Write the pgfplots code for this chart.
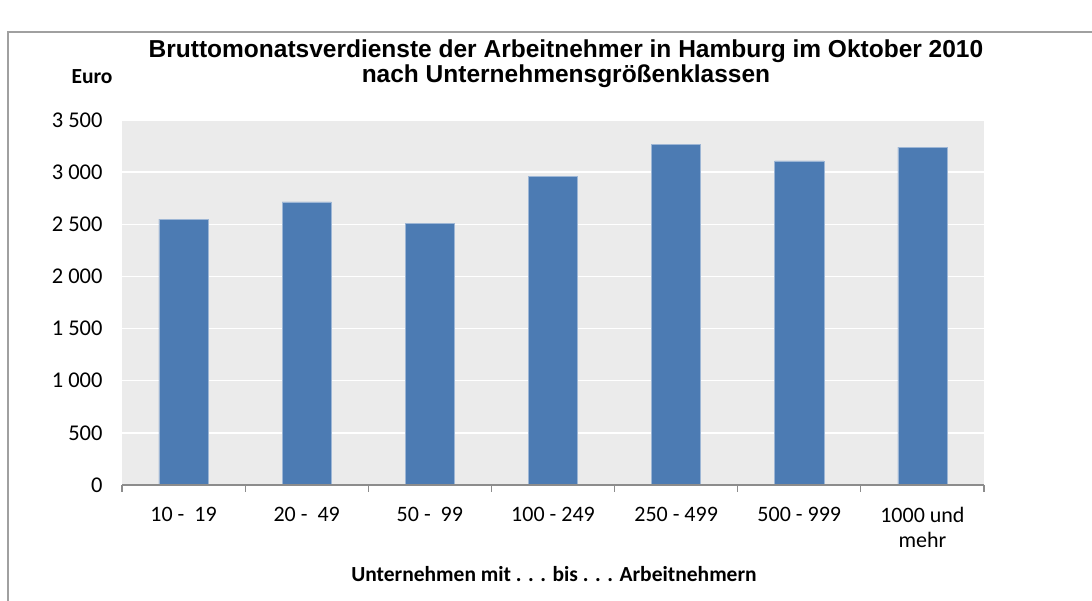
\documentclass[border=0pt]{standalone}
\usepackage{fontspec}
\setmainfont{Carlito}
\newfontfamily\titlefont{Liberation Sans}
\usepackage{pgfplots}
\pgfplotsset{compat=1.18}
\definecolor{barblue}{HTML}{4C7BB3}
\definecolor{plotbg}{HTML}{EBEBEB}
\definecolor{framegray}{HTML}{A0A0A0}
\definecolor{axisgray}{HTML}{8C8C8C}

\begin{document}
\begin{tikzpicture}[x=1pt,y=1pt]
\path[use as bounding box] (0,0) rectangle (1092,601);
% chart frame (bottom and right edges fall outside the picture)
\draw[framegray, line width=1.5pt] (8,0) -- (8,569) -- (1092,569);

\node[font=\titlefont\bfseries\fontsize{24.5}{25}\selectfont, align=center, anchor=north]
  at (566,565) {Bruttomonatsverdienste der Arbeitnehmer in Hamburg im Oktober 2010\\nach Unternehmensgrößenklassen};
\node[font=\bfseries\fontsize{21.5}{24}\selectfont] at (92,524) {Euro};
\node[font=\bfseries\fontsize{21.5}{24}\selectfont] at (554,27) {Unternehmen mit . . . bis . . . Arbeitnehmern};

\begin{axis}[
  at={(122pt,116pt)}, anchor=south west,
  scale only axis, width=862pt, height=365pt,
  xmin=-0.5, xmax=6.5, ymin=0, ymax=3500,
  axis background/.style={fill=plotbg},
  axis line style={draw=none},
  ytick={0,500,...,3500},
  yticklabels={0,500,1 000,1 500,2 000,2 500,3 000,3 500},
  ymajorgrids, grid style={white, line width=1.3pt},
  major tick length=0pt,
  xtick={0,...,6},
  xticklabels={10 -\ \ 19,20 -\ \ 49,50 -\ \ 99,100 - 249,250 - 499,500 - 999,1000 und\\mehr},
  xticklabel style={align=center, yshift=-19pt, font=\fontsize{22}{25}\selectfont},
  yticklabel style={xshift=-16pt, font=\fontsize{22.5}{25}\selectfont},
  extra x ticks={-0.5,0.5,...,6.5},
  extra x tick labels={},
  extra x tick style={major tick length=7pt, tick align=outside, tick pos=bottom,
    tick style={axisgray, line width=1.2pt}, grid=none},
  clip=false,
]
\addplot[ybar, bar width=0.4, fill=barblue, draw=barblue!55!white, line width=0.6pt] coordinates {
  (0,2550) (1,2715) (2,2505) (3,2958) (4,3268) (5,3108) (6,3240)
};
\draw[axisgray, line width=1.2pt] (axis cs:-0.5,0) -- (axis cs:6.5,0);
\end{axis}
\end{tikzpicture}
\end{document}
